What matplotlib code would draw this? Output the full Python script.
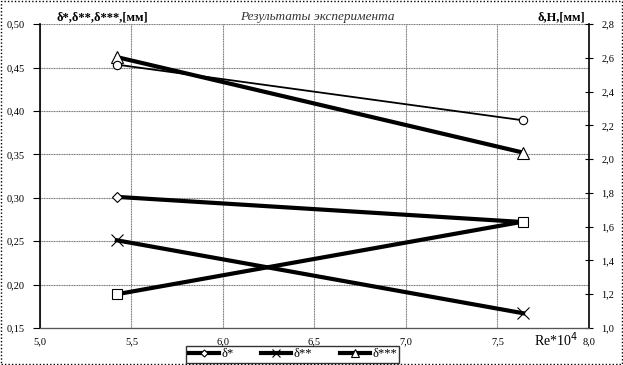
import numpy as np
import matplotlib.pyplot as plt

plt.rcParams['font.family'] = ['Liberation Serif', 'DejaVu Serif']

# Re*10^4 values
re = [5.42, 7.64]

# left axis series, mm
d_star = [0.301, 0.272]
d_2star = [0.251, 0.167]
d_3star = [0.462, 0.352]

# right axis series, mm
delta = [2.56, 2.23]
H = [1.20, 1.63]

legend_labels = ['δ*', 'δ**', 'δ***']

fig = plt.figure(figsize=(6.23, 3.65), dpi=100)
ax = fig.add_axes([0.0642, 0.1014, 0.8812, 0.8326])
ax2 = ax.twinx()

lw = 3.0
l1, = ax.plot(re, d_star, color='black', lw=lw, marker='D', ms=5.5,
              mfc='white', mec='black', mew=0.8, label=legend_labels[0], zorder=3)
l2, = ax.plot(re, d_2star, color='black', lw=lw, marker='x', ms=8,
              mec='black', mew=0.8, label=legend_labels[1], zorder=3)
l3, = ax.plot(re, d_3star, color='black', lw=lw, marker='^', ms=8,
              mfc='white', mec='black', mew=0.8, label=legend_labels[2], zorder=3)

ax2.plot(re, delta, color='black', lw=1.3, marker='o', ms=6,
         mfc='white', mec='black', mew=0.8, zorder=3)
ax2.plot(re, H, color='black', lw=lw, marker='s', ms=7,
         mfc='white', mec='black', mew=0.8, zorder=3)

ax.set_xlim(5.0, 8.0)
ax.set_ylim(0.15, 0.50)
ax2.set_ylim(1.0, 2.8)

xt = np.arange(5.0, 8.01, 0.5)
ax.set_xticks(xt)
ax.set_xticklabels([f'{v:.1f}'.replace('.', ',') for v in xt])
yt = np.arange(0.15, 0.501, 0.05)
ax.set_yticks(yt)
ax.set_yticklabels([f'{v:.2f}'.replace('.', ',') for v in yt])
y2t = np.arange(1.0, 2.81, 0.2)
ax2.set_yticks(y2t)
ax2.set_yticklabels([f'{v:.1f}'.replace('.', ',') for v in y2t])

ax.grid(True, color='#777777', lw=0.8, ls=(0, (1, 0.5)))
ax.set_axisbelow(True)

for a in (ax, ax2):
    a.spines['top'].set_visible(False)
    a.spines['bottom'].set_color('#555555')
    a.spines['bottom'].set_linestyle((0, (1, 0.5)))
ax.spines['right'].set_visible(False)
ax2.spines['left'].set_visible(False)
ax.spines['left'].set_linewidth(1.2)
ax2.spines['right'].set_linewidth(1.2)

ax.tick_params(axis='y', direction='out', length=5, width=0.8, labelsize=7.5, pad=6)
ax.tick_params(axis='x', length=0, labelsize=7.5, pad=7)
ax2.tick_params(axis='y', direction='inout', length=6, width=0.8, labelsize=7.5, pad=6)

fig.text(0.09, 0.945, 'δ*,δ**,δ***,[мм]', fontsize=9, fontweight='bold')
fig.text(0.862, 0.945, 'δ,H,[мм]', fontsize=9, fontweight='bold')
fig.text(0.51, 0.945, 'Результаты эксперимента', fontsize=9.5, style='italic',
         ha='center', color='#333333')
fig.text(0.928, 0.052, 'Re*10$^4$', fontsize=10, ha='right')

fig.legend(handles=[l1, l2, l3], loc='center', bbox_to_anchor=(0.47, 0.03),
           ncol=3, frameon=True, fancybox=False, edgecolor='black',
           fontsize=9, handlelength=2.4, columnspacing=2.2, borderpad=0.2,
           handletextpad=0.2, markerscale=0.65)

fig.patches.append(plt.Rectangle((0.002, 0.003), 0.996, 0.994, transform=fig.transFigure,
                                 fill=False, edgecolor='black', lw=1.0, ls=(0, (1, 1.5))))

fig.savefig('out.png', dpi=100)
